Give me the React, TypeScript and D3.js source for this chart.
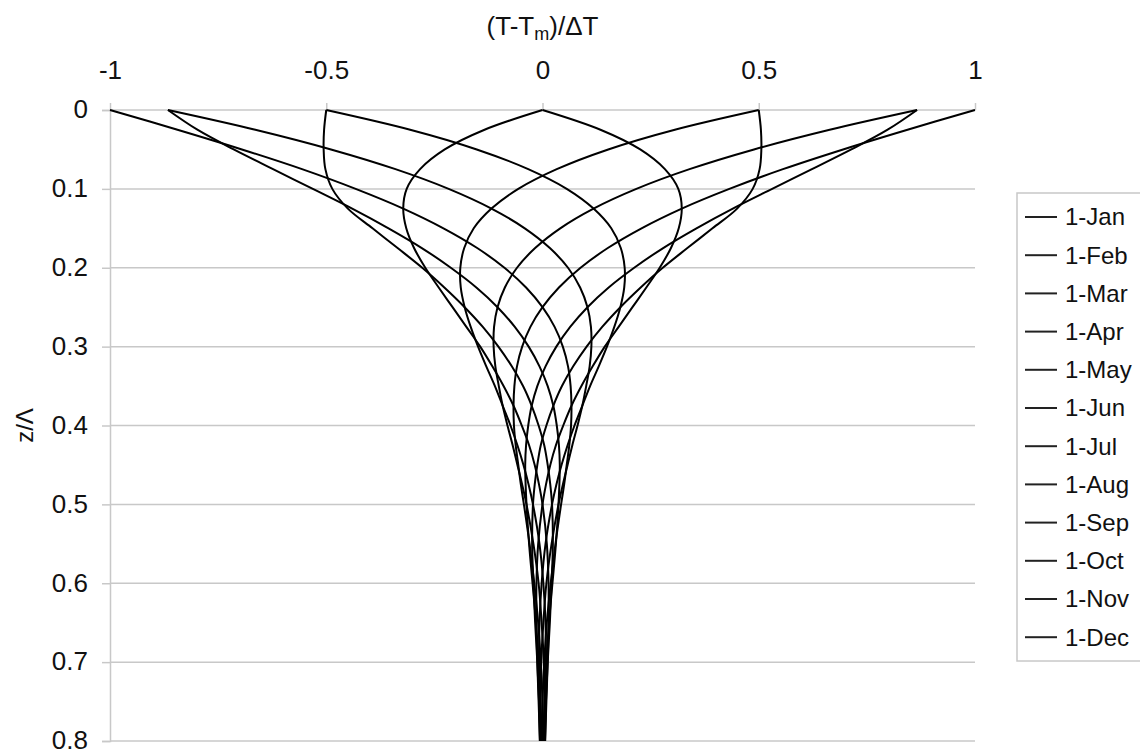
import React, { useEffect, useRef } from 'react';
import * as d3 from 'd3';

// depth z/Lambda of every sample
const depths = [0, 0.025, 0.05, 0.075, 0.1, 0.125, 0.15, 0.175, 0.2, 0.225, 0.25, 0.275, 0.3, 0.325, 0.35, 0.375, 0.4, 0.425, 0.45, 0.475, 0.5, 0.55, 0.6, 0.65, 0.7, 0.75, 0.8];

const months = ['1-Jan', '1-Feb', '1-Mar', '1-Apr', '1-May', '1-Jun', '1-Jul', '1-Aug', '1-Sep', '1-Oct', '1-Nov', '1-Dec'];

// (T-Tm)/dT read along each profile
const jan = [-1, -0.844, -0.695, -0.556, -0.432, -0.322, -0.229, -0.151, -0.088, -0.038, 0, 0.028, 0.047, 0.059, 0.065, 0.067, 0.066, 0.062, 0.056, 0.05, 0.043, 0.03, 0.019, 0.01, 0.004, 0, -0.002];
const feb = [-0.866, -0.798, -0.714, -0.623, -0.531, -0.44, -0.356, -0.279, -0.212, -0.153, -0.104, -0.064, -0.032, -0.007, 0.012, 0.025, 0.033, 0.038, 0.04, 0.039, 0.037, 0.031, 0.023, 0.015, 0.009, 0.005, 0.001];
const mar = [-0.5, -0.505, -0.506, -0.502, -0.486, -0.45, -0.393, -0.335, -0.278, -0.227, -0.18, -0.138, -0.102, -0.071, -0.045, -0.025, -0.009, 0.004, 0.012, 0.018, 0.022, 0.024, 0.021, 0.017, 0.012, 0.008, 0.004];
const apr = [0, -0.134, -0.226, -0.283, -0.314, -0.322, -0.315, -0.297, -0.271, -0.24, -0.208, -0.176, -0.144, -0.116, -0.09, -0.067, -0.048, -0.031, -0.018, -0.008, 0, 0.01, 0.014, 0.014, 0.012, 0.009, 0.006];
const may = [0.5, 0.306, 0.152, 0.033, -0.056, -0.118, -0.159, -0.181, -0.19, -0.189, -0.18, -0.166, -0.149, -0.13, -0.11, -0.092, -0.074, -0.058, -0.044, -0.032, -0.022, -0.007, 0.002, 0.007, 0.008, 0.008, 0.006];
const jun = [0.866, 0.664, 0.489, 0.34, 0.217, 0.118, 0.041, -0.017, -0.059, -0.087, -0.104, -0.112, -0.113, -0.109, -0.101, -0.092, -0.081, -0.069, -0.058, -0.047, -0.037, -0.021, -0.009, -0.002, 0.003, 0.005, 0.005];
const jul = [1, 0.844, 0.695, 0.556, 0.432, 0.322, 0.229, 0.151, 0.088, 0.038, 0, -0.028, -0.047, -0.059, -0.065, -0.067, -0.066, -0.062, -0.056, -0.05, -0.043, -0.03, -0.019, -0.01, -0.004, 0, 0.002];
const aug = [0.866, 0.798, 0.714, 0.623, 0.531, 0.44, 0.356, 0.279, 0.212, 0.153, 0.104, 0.064, 0.032, 0.007, -0.012, -0.025, -0.033, -0.038, -0.04, -0.039, -0.037, -0.031, -0.023, -0.015, -0.009, -0.005, -0.001];
const sep = [0.5, 0.505, 0.506, 0.502, 0.486, 0.45, 0.393, 0.335, 0.278, 0.227, 0.18, 0.138, 0.102, 0.071, 0.045, 0.025, 0.009, -0.004, -0.012, -0.018, -0.022, -0.024, -0.021, -0.017, -0.012, -0.008, -0.004];
const oct = [0, 0.134, 0.226, 0.283, 0.314, 0.322, 0.315, 0.297, 0.271, 0.24, 0.208, 0.176, 0.144, 0.116, 0.09, 0.067, 0.048, 0.031, 0.018, 0.008, 0, -0.01, -0.014, -0.014, -0.012, -0.009, -0.006];
const nov = [-0.5, -0.306, -0.152, -0.033, 0.056, 0.118, 0.159, 0.181, 0.19, 0.189, 0.18, 0.166, 0.149, 0.13, 0.11, 0.092, 0.074, 0.058, 0.044, 0.032, 0.022, 0.007, -0.002, -0.007, -0.008, -0.008, -0.006];
const dec = [-0.866, -0.664, -0.489, -0.34, -0.217, -0.118, -0.041, 0.017, 0.059, 0.087, 0.104, 0.112, 0.113, 0.109, 0.101, 0.092, 0.081, 0.069, 0.058, 0.047, 0.037, 0.021, 0.009, 0.002, -0.003, -0.005, -0.005];

const xTicks = [-1, -0.5, 0, 0.5, 1];
const yTicks = [0, 0.1, 0.2, 0.3, 0.4, 0.5, 0.6, 0.7, 0.8];

const App = () => {
  const svgRef = useRef<SVGSVGElement>(null);

  useEffect(() => {
    const width = 1140;
    const height = 753;
    const left = 110, right = 975, top = 110, bottom = 741;
    const font = 'Liberation Sans, Arial, sans-serif';
    const gridColor = '#c8c8c8';

    const svg = d3.select(svgRef.current)
      .attr('width', width)
      .attr('height', height);
    svg.selectAll('*').remove();

    const x = d3.scaleLinear().domain([-1, 1]).range([left, right]);
    const y = d3.scaleLinear().domain([0, 0.8]).range([top, bottom]);

    // horizontal gridlines
    svg.append('g')
      .selectAll('line')
      .data(yTicks)
      .join('line')
      .attr('x1', left)
      .attr('x2', right)
      .attr('y1', d => y(d))
      .attr('y2', d => y(d))
      .attr('stroke', gridColor)
      .attr('stroke-width', 1.5);

    // top axis
    const xAxis = svg.append('g')
      .attr('transform', `translate(0, ${top})`)
      .call(d3.axisTop(x).tickValues(xTicks).tickSize(7).tickPadding(24).tickFormat(d => String(d)));
    xAxis.select('.domain').remove();
    xAxis.selectAll('line').attr('stroke', gridColor).attr('stroke-width', 1.5);
    xAxis.selectAll('text')
      .attr('font-family', font)
      .attr('font-size', 26)
      .attr('fill', '#111');

    // left axis
    const yAxis = svg.append('g')
      .attr('transform', `translate(${left}, 0)`)
      .call(d3.axisLeft(y).tickValues(yTicks).tickSize(8).tickPadding(14).tickFormat(d => String(d)));
    yAxis.select('.domain').attr('stroke', gridColor).attr('stroke-width', 1.5);
    yAxis.selectAll('line').attr('stroke', gridColor).attr('stroke-width', 1.5);
    yAxis.selectAll('text')
      .attr('font-family', font)
      .attr('font-size', 26)
      .attr('dy', '0.3em')
      .attr('fill', '#111');

    // profiles
    const series = [jan, feb, mar, apr, may, jun, jul, aug, sep, oct, nov, dec];
    const line = d3.line<number>()
      .x(d => x(d))
      .y((d, i) => y(depths[i]))
      .curve(d3.curveCatmullRom.alpha(0.5));

    svg.append('g')
      .selectAll('path')
      .data(series)
      .join('path')
      .attr('d', d => line(d))
      .attr('fill', 'none')
      .attr('stroke', '#000')
      .attr('stroke-width', 2);

    // axis titles
    const title = svg.append('text')
      .attr('x', x(0))
      .attr('y', 35)
      .attr('text-anchor', 'middle')
      .attr('font-family', font)
      .attr('font-size', 26)
      .attr('fill', '#111');
    title.append('tspan').text('(T-T');
    title.append('tspan').attr('font-size', 18).attr('dy', 5).text('m');
    title.append('tspan').attr('dy', -5).text(')/ΔT');

    svg.append('text')
      .attr('transform', `translate(33, ${y(0.4)}) rotate(-90)`)
      .attr('text-anchor', 'middle')
      .attr('font-family', font)
      .attr('font-size', 24)
      .attr('fill', '#111')
      .text('z/Λ');

    // legend
    const legend = svg.append('g');
    legend.append('rect')
      .attr('x', 1017)
      .attr('y', 193)
      .attr('width', 160)
      .attr('height', 468)
      .attr('fill', '#fff')
      .attr('stroke', gridColor)
      .attr('stroke-width', 1.5);

    const item = legend.selectAll('g.item')
      .data(months)
      .join('g')
      .attr('class', 'item')
      .attr('transform', (d, i) => `translate(0, ${217 + i * 38.2})`);
    item.append('line')
      .attr('x1', 1025)
      .attr('x2', 1057)
      .attr('stroke', '#222')
      .attr('stroke-width', 2);
    item.append('text')
      .attr('x', 1065)
      .attr('dy', '0.35em')
      .attr('font-family', font)
      .attr('font-size', 24)
      .attr('fill', '#111')
      .text(d => d);
  }, []);

  return <svg ref={svgRef} style={{ position: 'absolute', left: 0, top: 0 }}></svg>;
};

export default App;
